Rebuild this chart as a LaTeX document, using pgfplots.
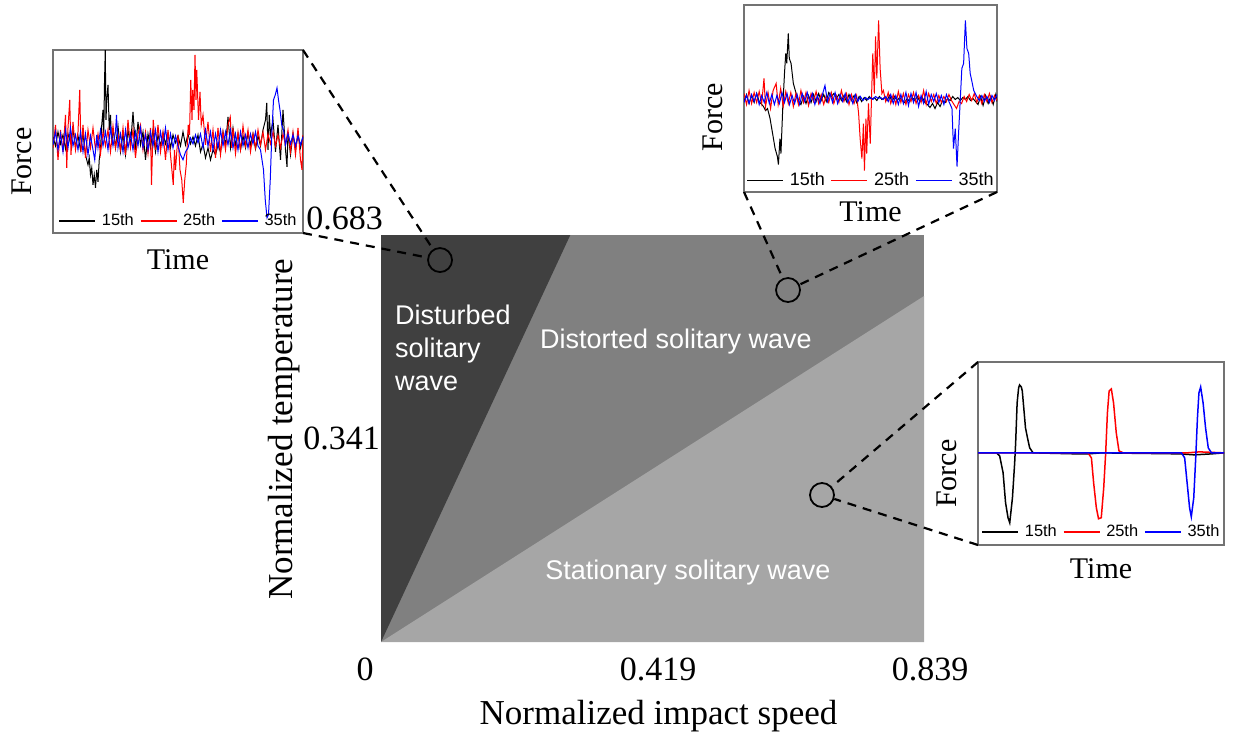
\documentclass[border=0pt]{standalone}
\usepackage{fontspec}
\setmainfont{Liberation Serif}
\newfontfamily\arial{Liberation Sans}
\usepackage{pgfplots}
\pgfplotsset{compat=1.18}

\definecolor{darkreg}{RGB}{64,64,64}
\definecolor{midreg}{RGB}{128,128,128}
\definecolor{lightreg}{RGB}{166,166,166}

\pgfplotsset{
  inset/.style={
    scale only axis, xmin=0, xmax=100, enlargelimits=false,
    xtick=\empty, ytick=\empty,
    axis line style={draw=black!55, line width=0.6pt},
    label style={font=\fontsize{15}{18}\selectfont},
    xlabel={Time}, ylabel={Force},
    xlabel style={at={(axis description cs:0.5,0)}, anchor=north, inner sep=0pt},
    ylabel style={at={(axis description cs:-0.082,0.39)}, anchor=south, inner sep=0pt},
    legend columns=3,
    legend image code/.code={\draw[##1, line width=0.7pt] (0pt,0pt) -- (18pt,0pt);},
    legend style={at={(0.5,0)}, anchor=south, draw=none, fill=none, inner sep=1.5pt,
      font=\arial\fontsize{8.2}{9}\selectfont, nodes={inner sep=0.5pt},
      /tikz/every odd column/.append style={column sep=2.5pt},
      /tikz/every even column/.append style={column sep=2.5pt}},
  },
  sig/.style={line width=0.5pt},
}

\begin{document}
\begin{tikzpicture}
\path[use as bounding box] (0,0) rectangle (617.5pt,-367pt);

% main phase diagram
\begin{axis}[name=main, at={(190.5pt,-321pt)}, anchor=south west,
  scale only axis, width=271.5pt, height=203.5pt,
  xmin=0, xmax=0.839, ymin=0, ymax=0.683, enlargelimits=false,
  axis line style={draw=none}, major tick length=0pt,
  /pgf/number format/assume math mode=true,
  xtick={0,0.419,0.839},
  xticklabels={\makebox[0pt]{\hspace*{-16pt}0}, \makebox[0pt]{\hspace*{6pt}0.419}, \makebox[0pt]{\hspace*{6pt}0.839}},
  ytick={0.341}, yticklabels={0.341},
  extra y ticks={0.683}, extra y tick labels={0.683},
  extra y tick style={tick label style={xshift=1.5pt, yshift=8.5pt}},
  tick label style={font=\fontsize{17}{20}\selectfont},
  xticklabel style={yshift=-4.5pt},
  yticklabel style={xshift=3pt},
  label style={font=\fontsize{17.5}{20}\selectfont},
  xlabel={Normalized impact speed}, ylabel={Normalized temperature},
  xlabel style={at={(axis description cs:0.5,0)}, anchor=north, inner sep=0pt, yshift=-29pt, xshift=3pt},
  ylabel style={at={(axis description cs:-0.149,0.523)}, anchor=south, inner sep=0pt},
]
\addplot[fill=midreg, draw=none] coordinates {(0,0) (0,0.683) (0.839,0.683) (0.839,0)} -- cycle;
\addplot[fill=darkreg, draw=none] coordinates {(0,0) (0,0.683) (0.2925,0.683)} -- cycle;
\addplot[fill=lightreg, draw=none] coordinates {(0,0) (0.839,0) (0.839,0.5806)} -- cycle;

\node[text=white, font=\arial\fontsize{13.5}{16.5}\selectfont, align=left, anchor=west] at (axis cs:0.0108,0.4934) {Disturbed\\solitary\\wave};
\node[text=white, font=\arial\fontsize{13.5}{16.5}\selectfont] at (axis cs:0.4558,0.5051) {Distorted solitary wave};
\node[text=white, font=\arial\fontsize{13.5}{16.5}\selectfont] at (axis cs:0.4743,0.1158) {Stationary solitary wave};

\node[circle, draw, line width=0.9pt, minimum size=12pt, inner sep=0pt] (c1) at (axis cs:0.0912,0.641) {};
\node[circle, draw, line width=0.9pt, minimum size=12pt, inner sep=0pt] (c2) at (axis cs:0.6289,0.5907) {};
\node[circle, draw, line width=0.9pt, minimum size=12pt, inner sep=0pt] (c3) at (axis cs:0.6814,0.2467) {};
\end{axis}

% inset 1: disturbed
\begin{axis}[inset, name=ins1, at={(26.5pt,-116.5pt)}, anchor=south west,
  width=125pt, height=91.5pt, ymin=-93.3, ymax=90,
  xlabel style={yshift=-8pt}]
\addplot[sig, black] coordinates {(0,3) (1,-6) (2,8) (3,-4) (4,5) (5,-9) (6,6) (7,-3) (8,10) (9,-7) (10,4) (11,-10) (12,6) (13,-15) (14,-25) (14.5,-18) (15,-35) (15.5,-28) (16,-45) (16.5,-35) (17,-48) (17.5,-30) (18,-42) (18.5,-20) (19,-10) (19.5,15) (20,30) (20.3,5) (20.6,57) (20.9,90) (21.2,20) (21.5,40) (22,55) (22.5,10) (23,25) (23.5,-5) (24,12) (25,-8) (26,14) (27,-12) (28,6) (29,-15) (30,10) (31,-6) (32,28) (33,-10) (34,18) (35,-5) (36,8) (37,-20) (38,6) (39,-8) (40,10) (41,-12) (42,5) (43,-6) (44,7) (45,-4) (46,6) (47,-8) (48,5) (49,-3) (50,4) (51,-6) (52,8) (53,-5) (54,6) (55,-4) (56,3) (57,-6) (58,5) (59,-12) (60,-4) (61,-18) (62,-8) (63,-20) (64,-10) (65,-15) (66,-5) (67,-12) (68,8) (69,-6) (70,23) (71,-8) (72,12) (73,-5) (74,6) (75,-10) (76,4) (77,-8) (78,7) (79,-5) (80,6) (81,-9) (82,4) (83,-6) (84,10) (85,20) (85.5,37) (86,-10) (86.5,25) (87,5) (88,20) (89,-12) (90,15) (91,-20) (92,30) (93,-10) (93.6,-27) (94,8) (95,-15) (96,6) (97,-10) (98,5) (99,-8) (100,4)};
\addlegendentry{15th}
\addplot[sig, red] coordinates {(0,-8) (1,15) (2,-20) (3,10) (4,-12) (5,25) (5.5,-28) (6,12) (6.7,40) (7.2,-15) (8,18) (9,-10) (10,8) (10.7,50) (11.2,-12) (12,15) (13,-18) (14,10) (15,-8) (16,12) (17,-10) (18,6) (19,-14) (20,8) (21,-6) (22,10) (23,-12) (24,14) (25,-8) (26,6) (27,-10) (28,12) (29,-15) (30,20) (31,-8) (32,10) (33,-18) (34,6) (35,15) (36,-10) (37,8) (38,-14) (39,12) (39.4,-45) (40.1,20) (41,-10) (42,15) (43,-12) (44,8) (45,-20) (46,10) (47,-15) (48.1,-45) (48.6,-10) (49,-30) (50,5) (50.8,-30) (51.5,-40) (52.1,-63) (52.7,-40) (53.3,-25) (54.1,15) (54.6,5) (55.1,60) (55.6,20) (55.9,50) (56.4,30) (56.8,85) (57.2,40) (57.5,70) (58.2,20) (58.8,48) (59.3,15) (60,25) (61,-5) (62,18) (63,-12) (64,10) (65,-18) (66,12) (67,-15) (68,8) (69,-10) (70,15) (70.9,23) (71.5,-8) (72,12) (73,-14) (74,8) (75,-10) (76,14) (77,-6) (78,10) (79,-12) (80,6) (81,-8) (82,10) (83,-5) (84,8) (85,-10) (86,6) (87,-4) (88,8) (89,-6) (90,5) (91,-8) (92,6) (93,-5) (94,10) (95,-12) (96,8) (97,-15) (98,12) (99,-20) (99.6,-30) (100,5)};
\addlegendentry{25th}
\addplot[sig, blue] coordinates {(0,-5) (1,8) (2,-10) (3,6) (4,-12) (5,10) (6,-8) (7,12) (8,-6) (9,5) (10,-10) (11,8) (12,-12) (13,6) (14,-15) (15,4) (16,-10) (16.7,-20) (17.5,5) (18,-8) (19,10) (20,-6) (21,8) (22,-10) (23,12) (24,-6) (25,8) (25.4,25) (26,-8) (27,6) (28,-12) (29,10) (30,-8) (31,6) (32,-10) (33,8) (34,-6) (35,12) (36,-8) (37,5) (38,-10) (39,8) (40,-6) (41,10) (42,-12) (43,8) (44,-6) (45,12) (46,-10) (47,6) (48,-8) (49,4) (50,-6) (51,-15) (52,-20) (53,-12) (54,-8) (55,2) (56,-4) (57,5) (58,-3) (59,6) (60,-8) (61,10) (62,-6) (63,8) (64,-10) (65,6) (66,-8) (67,10) (68,-6) (69,8) (70,-5) (71,10) (72,-8) (73,6) (74,-10) (75,8) (76,-6) (77,5) (78,-8) (79,6) (80,-4) (81,8) (82,-6) (83,-10) (84.2,-30) (84.9,-60) (85.6,-78) (86.2,-75) (86.9,-40) (87.6,10) (88.2,40) (88.9,45) (89.6,52) (90.2,40) (90.9,28) (91.5,15) (92.2,10) (93,-5) (94,6) (95,-4) (96,5) (97,-6) (98,4) (99,-5) (100,3)};
\addlegendentry{35th}
\end{axis}

% inset 2: distorted
\begin{axis}[inset, name=ins2, at={(372pt,-96pt)}, anchor=south west,
  width=126.5pt, height=93.5pt, ymin=-93.3, ymax=93.3,
  xlabel style={yshift=-4.5pt},
  ylabel style={at={(axis description cs:-0.083,0.40)}},
  legend style={font=\arial\fontsize{9}{10}\selectfont, inner sep=1pt}]
\addplot[sig, black] coordinates {(0,-3) (1,4) (2,-5) (3,3) (4,-4) (5,5) (6,-3) (7,-6) (7.7,-8) (8.5,-12) (9.3,-10) (10.3,-20) (11.3,-35) (12.3,-50) (13.2,-58) (13.6,-66) (14.2,-40) (14.6,-55) (15.3,-10) (16,25) (16.5,45) (16.9,35) (17.5,65) (17.9,40) (18.6,35) (19.5,15) (20.6,5) (21.5,-3) (22.5,-6) (23.5,2) (24.5,-5) (25.5,3) (26.5,-4) (27.5,4) (28.5,-3) (29.5,5) (30.5,-2) (31.5,4) (32.5,-3) (33.5,6) (34.5,2) (35.5,5) (36.5,0) (37.5,4) (38.5,-2) (39.5,3) (40.5,-3) (41.5,4) (42.5,-2) (43.5,3) (44.5,-4) (45.5,2) (46.5,-3) (47.5,1) (48.5,-2) (49.5,2) (50.5,-1) (51.5,1) (52.5,-2) (53.5,2) (54.5,-1) (55.5,1) (56.5,-2) (57.5,3) (58.5,-3) (59.5,2) (60.5,-2) (61.5,1) (62.5,-2) (63.5,-4) (64.5,0) (65.5,-3) (66.5,1) (67.5,-2) (68.5,2) (69.5,-3) (70.5,1) (71.5,-4) (72.5,-6) (73.5,-9) (74.5,-5) (75.5,-10) (76.5,-4) (77.5,-8) (78.5,-2) (79.5,-4) (80.5,0) (81.5,-2) (82.5,2) (83.5,-1) (84.5,1) (85.5,-2) (86.5,1) (87.5,-1) (88.5,2) (89.5,-2) (90.5,0) (91.5,-3) (92.5,-6) (93.5,2) (94.5,-7) (95.5,3) (96.5,-5) (97.5,2) (98.5,-6) (99.5,4) (100,-3)};
\addlegendentry{15th}
\addplot[sig, red] coordinates {(0,5) (1,-6) (2,8) (3,-5) (4,6) (5,-4) (6,7) (7,-5) (7.9,20) (8.5,-8) (9.5,6) (10.5,-10) (11.5,8) (12.7,15) (13.5,-6) (14.5,10) (15.5,-8) (16.5,7) (17.5,-5) (18.5,6) (19.5,-8) (20.5,5) (21.5,-6) (22.5,8) (23.5,-4) (24.5,6) (25.5,-7) (26.5,5) (27.5,-3) (28.5,7) (29.5,-5) (30.5,4) (31.5,-6) (32.5,3) (33.5,-4) (34.5,6) (35.5,-5) (36.5,3) (37.5,-4) (38.5,8) (39.5,-3) (40.5,5) (41.5,-6) (42.5,4) (43.5,-5) (44.5,3) (45.3,-15) (45.9,-40) (46.6,-60) (47.2,-25) (47.6,-72) (48.2,-20) (48.5,-55) (49.2,-5) (49.9,-45) (50.5,10) (50.9,45) (51.5,5) (52,62) (52.5,20) (53.2,78) (53.8,30) (54.5,5) (55.1,8) (56,-3) (57,6) (58,-5) (59,4) (60,-6) (61,7) (62,-4) (63,5) (64,-6) (65,4) (66,-3) (67,6) (68,-5) (69,3) (70,-4) (71,8) (72,-6) (73,5) (74,-3) (75,4) (76,-5) (77,3) (78,-4) (79,2) (80,-3) (81,4) (82,-2) (83,-6) (84,-10) (85,-3) (86,-5) (87,2) (88,-3) (89,4) (90,-2) (91,5) (92,-4) (93,3) (94,-5) (95,4) (96,-3) (97,5) (98,-4) (99,3) (100,-2)};
\addlegendentry{25th}
\addplot[sig, blue] coordinates {(0,-4) (1,3) (2,-5) (3,4) (4,-3) (5,5) (6,-6) (7,3) (8,-4) (9,6) (10,-5) (11,4) (12,-6) (13,3) (14,-5) (15,6) (16,-4) (17,5) (18,-6) (19,3) (20,-5) (21,4) (22,-6) (23,5) (24,-3) (25,6) (26,-4) (27,5) (28,-6) (29,3) (30,-5) (31,4) (32,13) (33,-3) (34,5) (35,-4) (36,6) (37,-5) (38,4) (39,-3) (40,5) (41,-4) (42,3) (43,-5) (44,4) (45,-3) (46,2) (47,-2) (48,1) (49,-1) (50,1) (51,-1) (52,2) (53,0) (54,1) (55,-1) (56,2) (57,-3) (58,4) (59,-5) (60,3) (61,-6) (62,4) (63,-5) (64,6) (65,-7) (66,5) (67,-4) (68,6) (69,-8) (70,3) (71,-5) (72,7) (73,-6) (74,4) (75,-3) (76,5) (77,-4) (78,3) (79,-6) (80,4) (81,-3) (82.2,-10) (82.8,-50) (83.5,-30) (84.2,-68) (84.8,-35) (85.5,0) (86.1,30) (86.8,35) (87.5,78) (88.1,50) (88.8,45) (89.4,25) (90,18) (90.8,8) (92,2) (93,-2) (94,3) (95,-3) (96,2) (97,-4) (98,3) (99,-2) (100,4)};
\addlegendentry{35th}
\end{axis}

% inset 3: stationary
\begin{axis}[inset, name=ins3, at={(489pt,-272.5pt)}, anchor=south west,
  width=123pt, height=91.5pt, ymin=-92.3, ymax=91,
  xlabel style={yshift=-6.5pt},
  ylabel style={at={(axis description cs:-0.085,0.39)}},
  legend style={inner sep=2pt}]
\addplot[line width=0.75pt, black] coordinates {(0,0) (7.5,0) (8.8,-3) (10.2,-20) (11.2,-50) (12.2,-65) (12.9,-70) (14,-45) (14.9,-10) (15.3,10) (15.9,50) (16.5,65) (16.9,68) (17.6,66) (18,62) (18.6,45) (19.3,25) (20.2,14) (21,5) (22.4,0) (40,-1) (45,-1) (50,0) (82,-1) (88,-2) (95,-1) (100,0)};
\addlegendentry{15th}
\addplot[line width=0.75pt, red] coordinates {(0,0) (44.7,0) (46.1,-5) (47,-30) (48.1,-55) (49,-66) (50.1,-65) (51.1,-35) (51.9,0) (52.6,40) (53.3,62) (54.2,64) (55.1,50) (56.2,20) (57.3,2) (59,0) (85,0) (90,1) (100,0)};
\addlegendentry{25th}
\addplot[line width=0.75pt, blue] coordinates {(0,0) (82.7,0) (84,-5) (85,-30) (86,-55) (86.7,-64) (87.7,-45) (88.5,-5) (89.2,35) (89.8,60) (90.5,66) (91.5,50) (92.5,25) (93.6,5) (94.9,0) (100,0)};
\addlegendentry{35th}
\end{axis}

% zoom connectors
\begin{scope}[line width=1.1pt, dash pattern=on 4.5pt off 3.5pt]
\draw (ins1.north east) -- (c1);
\draw (ins1.south east) -- (c1);
\draw (ins2.south west) -- (c2);
\draw (ins2.south east) -- (c2);
\draw (ins3.north west) -- (c3);
\draw (ins3.south west) -- (c3);
\end{scope}
\end{tikzpicture}
\end{document}
